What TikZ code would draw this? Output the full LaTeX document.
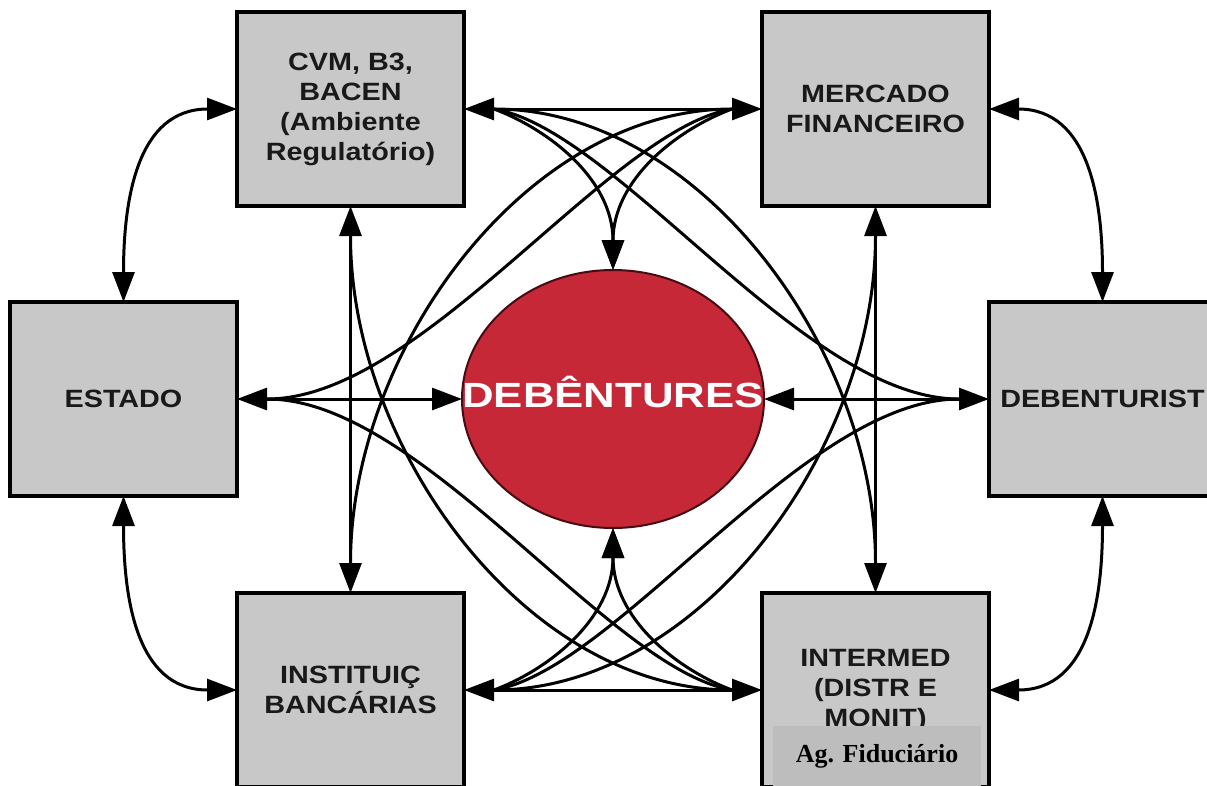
\documentclass[tikz,border=0pt]{standalone}
\usepackage{fontspec}
\setmainfont{Liberation Sans}[FakeStretch=1.15]
\newfontfamily\debfont{Liberation Sans}[FakeStretch=1.25]
\newfontfamily\fidfont{Liberation Serif}
\usetikzlibrary{positioning,arrows.meta,shapes.geometric}
\definecolor{boxgray}{RGB}{200,200,200}
\definecolor{fidgray}{RGB}{189,189,189}
\definecolor{debred}{RGB}{198,40,56}
\definecolor{debedge}{RGB}{70,12,18}

\begin{document}
\begin{tikzpicture}[x=1pt,y=-1pt,node distance=298pt,every node/.style={align=center},
  box/.style={draw,line width=3.4pt,fill=boxgray,minimum width=227pt,minimum height=194pt,
    inner sep=0pt,outer sep=0pt,text=black!90,font=\bfseries\fontsize{25}{30}\selectfont},
  fid/.style={fill=fidgray,minimum width=208pt,minimum height=60pt,inner sep=0pt,
    font=\fidfont\bfseries\fontsize{26}{30}\selectfont},
  deb/.style={ellipse,draw=debedge,line width=2pt,fill=debred,minimum width=302pt,
    minimum height=258pt,inner sep=0pt,outer sep=0pt},
  link/.style={line width=3pt}, >={Triangle[length=30pt,width=22pt]}]
\useasboundingbox (0,0) rectangle (1207,785);
\fill[white] (0,0) rectangle (1207,785);
\node[box] (cvm) at (350.5,109) {CVM, B3,\\BACEN\\(Ambiente\\Regulatório)};
\node[box,right=of cvm] (mer) {MERCADO\\FINANCEIRO};
\node[box,below=387pt of cvm] (ins) {INSTITUIÇ\\BANCÁRIAS};
\node[box,right=of ins] (itm) {INTERMED\\(DISTR E\\MONIT)};
\node[box,below left=96pt and 0pt of cvm] (est) {ESTADO};
\node[box,below right=96pt and 0pt of mer] (deb) {DEBENTURIST};
\node[deb,right=225pt of est] (circ) {};
\node[anchor=base,text=white,font=\debfont\bfseries\fontsize{35}{40}\selectfont] (circtxt)
  at ([yshift=-8pt]circ.center) {DEBÊNTURES};
\node[fid,anchor=north] (fidbox) at (877,726) {Ag. Fiduciário};
% arrow hubs
\coordinate (cvmR) at ([xshift=30pt]cvm.east);
\coordinate (merL) at ([xshift=-30pt]mer.west);
\coordinate (insR) at ([xshift=30pt]ins.east);
\coordinate (itmL) at ([xshift=-30pt]itm.west);
\coordinate (cvmB) at ([yshift=-30pt]cvm.south);
\coordinate (merB) at ([yshift=-30pt]mer.south);
\coordinate (insT) at ([yshift=30pt]ins.north);
\coordinate (itmT) at ([yshift=30pt]itm.north);
\coordinate (estR) at ([xshift=30pt]est.east);
\coordinate (debL) at ([xshift=-30pt]deb.west);
% straight links
\draw[link,<->] (cvm) -- (mer);
\draw[link,<->] (ins) -- (itm);
\draw[link,<->] (cvm) -- (ins);
\draw[link,<->] (mer) -- (itm);
\draw[link,<->] (est) -- (circ);
\draw[link,<->] (deb) -- (circ);
% outer links
\draw[link,<->] (est.north) to[out=90,in=180,looseness=1.15] (cvm.west);
\draw[link,<->] (est.south) to[out=-90,in=180,looseness=1.15] (ins.west);
\draw[link,<->] (deb.north) to[out=90,in=0,looseness=1.15] (mer.east);
\draw[link,<->] (deb.south) to[out=-90,in=0,looseness=1.15] (itm.east);
% into the circle
\draw[link,->] (cvmR) .. controls +(56,21) and +(0,-90) .. (circ.north);
\draw[link,->] (merL) .. controls +(-56,21) and +(0,-90) .. (circ.north);
\draw[link,->] (insR) .. controls +(56,-21) and +(0,90) .. (circ.south);
\draw[link,->] (itmL) .. controls +(-56,-21) and +(0,90) .. (circ.south);
% long crossings
\draw[link] (cvmR) .. controls +(124,21) and +(-155,0) .. (debL);
\draw[link] (merL) .. controls +(-124,21) and +(155,0) .. (estR);
\draw[link] (insR) .. controls +(124,-21) and +(-155,0) .. (debL);
\draw[link] (itmL) .. controls +(-124,-21) and +(155,0) .. (estR);
\draw[link] (cvmR) .. controls +(206,0) and +(0,-213) .. (itmT);
\draw[link] (merL) .. controls +(-206,0) and +(0,-213) .. (insT);
\draw[link] (insR) .. controls +(206,0) and +(0,213) .. (merB);
\draw[link] (itmL) .. controls +(-206,0) and +(0,213) .. (cvmB);
\end{tikzpicture}
\end{document}
